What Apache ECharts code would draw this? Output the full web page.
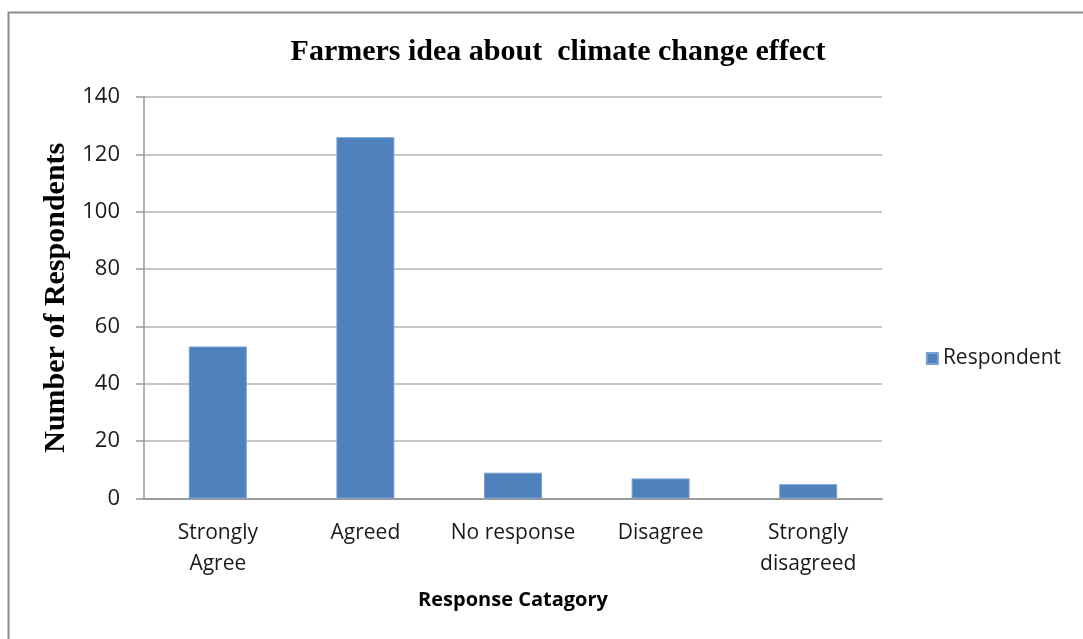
<!DOCTYPE html>
<html>
<head>
<meta charset="utf-8">
<script src="https://cdn.jsdelivr.net/npm/echarts@6/dist/echarts.min.js"></script>
<style>
  html, body { margin: 0; padding: 0; background: #fff; }
  #chart { width: 1083px; height: 639px; }
</style>
</head>
<body>
<div id="chart"></div>
<script>
// Survey responses on the effect of climate change
const categories = ['Strongly\nAgree', 'Agreed', 'No response', 'Disagree', 'Strongly\ndisagreed'];
const respondents = [53, 126, 9, 7, 5];
const yTicks = { min: 0, max: 140, interval: 20 };

const chart = echarts.init(document.getElementById('chart'));
chart.setOption({
  backgroundColor: '#ffffff',
  animation: false,
  graphic: [{
    type: 'rect',
    shape: { x: 8.5, y: 12.5, width: 1200, height: 800 },
    style: { fill: 'none', stroke: '#8c8c8c', lineWidth: 2 },
    silent: true
  }],
  title: {
    text: 'Farmers idea about  climate change effect',
    left: 553, top: 32, textAlign: 'center',
    textStyle: { fontFamily: 'Liberation Serif', fontWeight: 'bold', fontSize: 30, color: '#000' }
  },
  legend: {
    data: ['Respondent'],
    right: 17, top: 343,
    orient: 'vertical',
    itemWidth: 11, itemHeight: 11, itemGap: 8,
    icon: 'rect',
    textStyle: { fontFamily: 'Open Sans', fontSize: 21, color: '#1a1a1a' }
  },
  grid: { left: 144, right: 201, top: 97, bottom: 140.5, containLabel: false },
  xAxis: {
    type: 'category',
    data: categories,
    name: 'Response Catagory',
    nameLocation: 'middle',
    nameGap: 92,
    nameTextStyle: { fontFamily: 'Open Sans', fontWeight: 'bold', fontSize: 20, color: '#000' },
    axisLine: { lineStyle: { color: '#9a9a9a', width: 2 } },
    axisTick: { show: false },
    axisLabel: { margin: 19, fontFamily: 'Open Sans', fontSize: 21, color: '#1a1a1a', lineHeight: 31, interval: 0 }
  },
  yAxis: {
    type: 'value',
    min: yTicks.min, max: yTicks.max, interval: yTicks.interval,
    name: 'Number of Respondents',
    nameLocation: 'middle',
    nameGap: 67,
    nameTextStyle: { fontFamily: 'Liberation Serif', fontWeight: 'bold', fontSize: 30, color: '#000' },
    axisLine: { show: true, lineStyle: { color: '#9a9a9a', width: 1.5 } },
    axisTick: { show: true, length: 8, lineStyle: { color: '#9a9a9a', width: 1.5 } },
    splitLine: { lineStyle: { color: '#b4b4b4', width: 1.5 } },
    axisLabel: { margin: 24, fontFamily: 'Open Sans', fontSize: 22, color: '#1a1a1a' }
  },
  series: [{
    name: 'Respondent',
    type: 'bar',
    data: respondents,
    barWidth: 58,
    itemStyle: { color: '#4f81bd', borderColor: '#7aa0d2', borderWidth: 1 }
  }]
});
</script>
</body>
</html>
